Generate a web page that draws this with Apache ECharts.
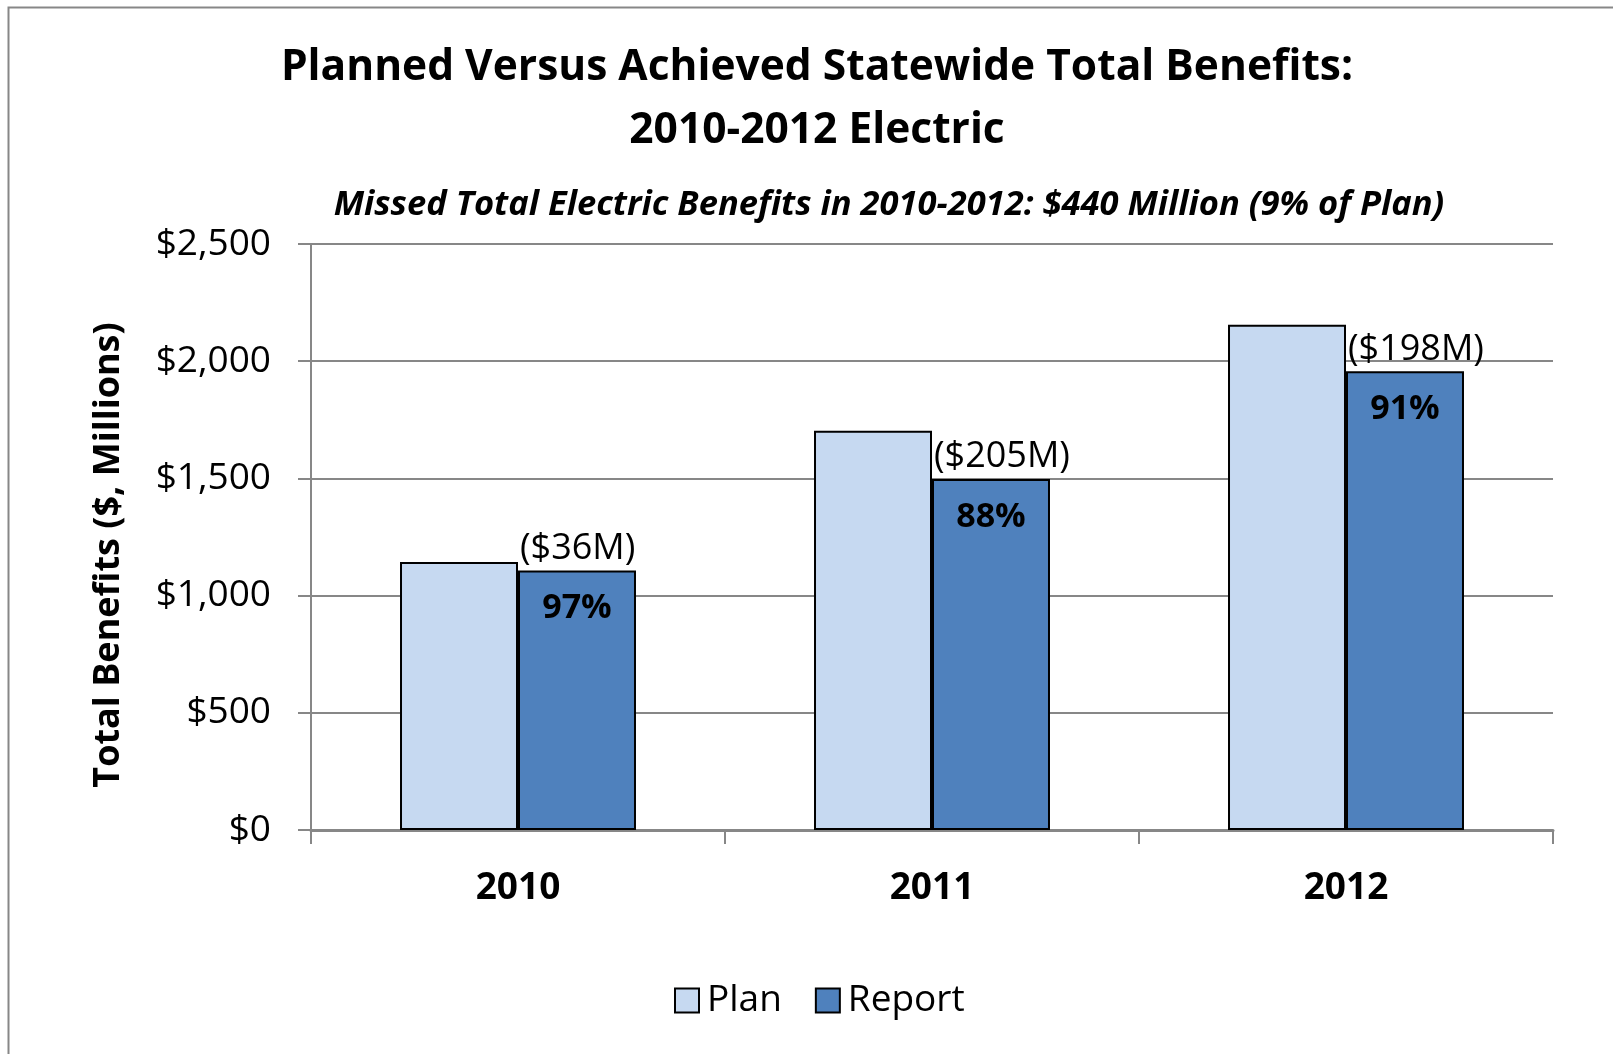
<!DOCTYPE html>
<html>
<head>
<meta charset="utf-8">
<script src="https://cdn.jsdelivr.net/npm/echarts@6/dist/echarts.min.js"></script>
<style>
	html, body { margin: 0; padding: 0; background: #fff; }
	#chart { width: 1613px; height: 1054px; }
</style>
</head>
<body>
<div id="chart"></div>
<script>
const years = ['2010', '2011', '2012'];
const planValues = [1143, 1703, 2155];
const reportValues = [1107, 1497, 1957];
const missedValues = [36, 205, 198];
const achievedPct = ['97%', '88%', '91%'];

const FONT = '"Open Sans", "Noto Sans", sans-serif';
const GRAY = '#878787';

const chart = echarts.init(document.getElementById('chart'));

chart.setOption({
	animation: false,
	textStyle: { fontFamily: FONT, color: '#000' },
	title: [
		{
			text: 'Planned Versus Achieved Statewide Total Benefits:\n2010-2012 Electric',
			left: 812,
			top: 31,
			textAlign: 'center',
			textStyle: { fontFamily: FONT, fontSize: 42.5, fontWeight: 'bold', lineHeight: 63, color: '#000' },
		},
		{
			text: 'Missed Total Electric Benefits in 2010-2012: $440 Million (9% of Plan)',
			left: 884,
			top: 179,
			textAlign: 'center',
			textStyle: { fontFamily: FONT, fontSize: 34.5, fontWeight: 'bold', fontStyle: 'italic', lineHeight: 42, color: '#000' },
		},
	],
	graphic: [
		{
			type: 'rect',
			left: 6,
			top: 5,
			shape: { width: 1660, height: 1100 },
			style: { fill: 'none', stroke: GRAY, lineWidth: 2 },
			silent: true,
		},
	],
	grid: {
		left: 311,
		right: 60,
		top: 244,
		bottom: 224,
	},
	legend: {
		data: ['Plan', 'Report'],
		bottom: 30,
		left: 669,
		icon: 'rect',
		itemWidth: 24,
		itemHeight: 24,
		itemGap: 33,
		textStyle: { fontFamily: FONT, fontSize: 37, color: '#000', padding: [0, 0, 0, 3] },
	},
	xAxis: {
		type: 'category',
		data: years,
		axisLine: { lineStyle: { color: GRAY, width: 3 } },
		axisTick: { show: true, length: 14, lineStyle: { color: GRAY, width: 2 } },
		axisLabel: { fontFamily: FONT, fontSize: 37, fontWeight: 'bold', color: '#000', margin: 40 },
	},
	yAxis: {
		type: 'value',
		min: 0,
		max: 2500,
		interval: 500,
		name: 'Total Benefits ($, Millions)',
		nameLocation: 'middle',
		nameGap: 184,
		nameTextStyle: { fontFamily: FONT, fontSize: 36, fontWeight: 'bold', color: '#000', padding: [0, 36, 0, 0] },
		axisLine: { show: true, lineStyle: { color: GRAY, width: 2 } },
		axisTick: { show: true, length: 13, lineStyle: { color: GRAY, width: 2 } },
		axisLabel: {
			fontFamily: FONT,
			fontSize: 37,
			color: '#000',
			margin: 40,
			formatter: (value) => '$' + value.toLocaleString('en-US'),
		},
		splitLine: { show: true, lineStyle: { color: GRAY, width: 2 } },
	},
	series: [
		{
			name: 'Plan',
			type: 'bar',
			data: planValues,
			barGap: '0%',
			barCategoryGap: '43%',
			itemStyle: { color: '#C6D9F1', borderColor: '#000', borderWidth: 2 },
			emphasis: { disabled: true },
		},
		{
			name: 'Report',
			type: 'bar',
			stack: 'report',
			data: reportValues,
			itemStyle: { color: '#4F81BD', borderColor: '#000', borderWidth: 2 },
			label: {
				show: true,
				position: 'insideTop',
				distance: 21,
				fontFamily: FONT,
				fontSize: 34,
				fontWeight: 'bold',
				color: '#000',
				formatter: (p) => achievedPct[p.dataIndex],
			},
			emphasis: { disabled: true },
		},
		{
			// 缺口部分: 叠在 Report 上, 只显示标签
			name: 'Missed',
			type: 'bar',
			stack: 'report',
			data: missedValues,
			silent: true,
			itemStyle: { color: 'rgba(0,0,0,0)', borderWidth: 0 },
			label: {
				show: true,
				position: [2, '100%'],
				align: 'left',
				verticalAlign: 'bottom',
				offset: [0, -4],
				fontFamily: FONT,
				fontSize: 36,
				color: '#000',
				formatter: (p) => `($${p.value}M)`,
			},
			emphasis: { disabled: true },
		},
	],
});
</script>
</body>
</html>
